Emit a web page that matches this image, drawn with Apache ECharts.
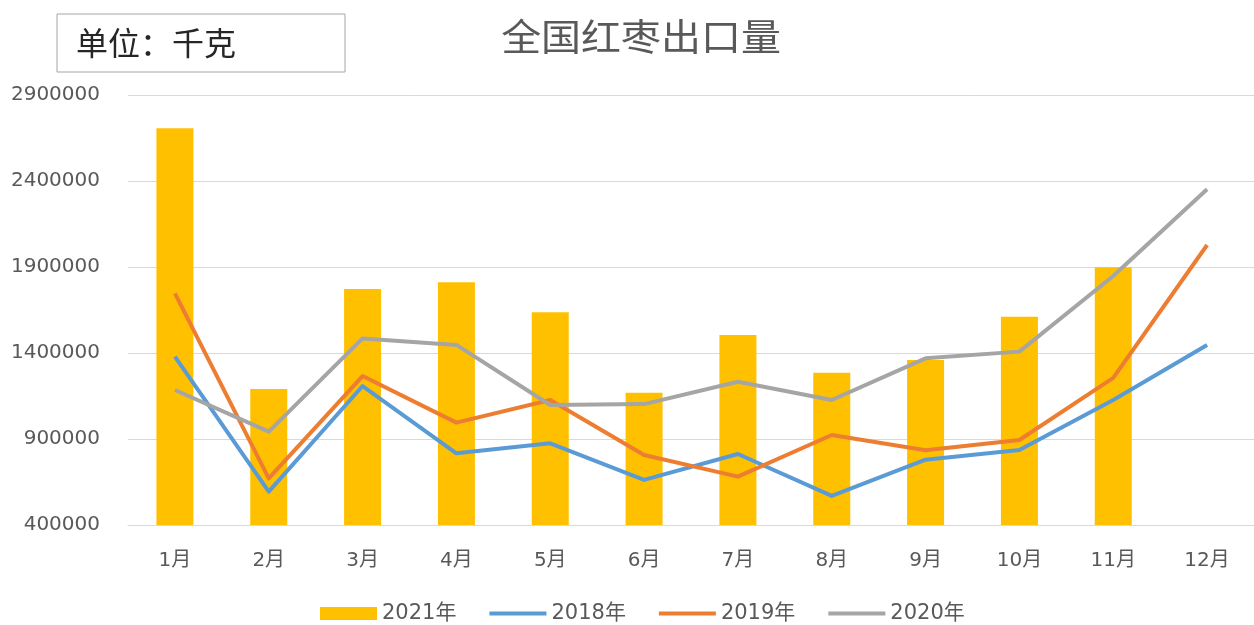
<!DOCTYPE html>
<html>
<head>
<meta charset="utf-8">
<script src="https://cdn.jsdelivr.net/npm/echarts@6/dist/echarts.min.js"></script>
<style>
  html, body { margin: 0; padding: 0; background: #fff; }
  #main { width: 1254px; height: 625px; }
</style>
</head>
<body>
<div id="main"></div>
<script>
// 月份
const months = ['1月', '2月', '3月', '4月', '5月', '6月', '7月', '8月', '9月', '10月', '11月', '12月'];

// 出口量（千克）
const data2021 = [2706000, 1190000, 1772000, 1811000, 1637000, 1169000, 1505000, 1285000, 1359000, 1611000, 1898000, null];
const data2018 = [1379000, 594000, 1208000, 817000, 875000, 662000, 813000, 569000, 780000, 836000, 1127000, 1447000];
const data2019 = [1747000, 671000, 1266000, 995000, 1127000, 807000, 681000, 923000, 835000, 894000, 1255000, 2028000];
const data2020 = [1185000, 943000, 1485000, 1447000, 1098000, 1103000, 1233000, 1127000, 1369000, 1408000, 1848000, 2352000];

const FONT = '"DejaVu Sans", "Noto Sans CJK SC"';
const chart = echarts.init(document.getElementById('main'));

const lineSeries = (name, data, color) => ({
  name: name,
  type: 'line',
  data: data,
  symbol: 'none',
  lineStyle: { color: color, width: 4, join: 'round' },
  itemStyle: { color: color }
});

// 折线图例只画线，不画圆点
const lineLegend = name => ({ name: name, itemStyle: { opacity: 0 }, lineStyle: { width: 4 } });

chart.setOption({
  animation: false,
  graphic: [
    {
      type: 'text',
      x: 641, y: 37,
      scaleX: 1.08,
      style: {
        text: '全国红枣出口量',
        font: '37px "Noto Sans CJK SC"',
        fill: '#595959',
        textAlign: 'center',
        verticalAlign: 'middle'
      }
    },
    {
      type: 'rect',
      shape: { x: 57, y: 14, width: 288, height: 58 },
      style: { fill: '#fff', stroke: '#a6a6a6', lineWidth: 1 }
    },
    {
      type: 'text',
      x: 76, y: 43,
      style: {
        text: '单位：千克',
        font: '32px "Noto Sans CJK SC"',
        fill: '#262626',
        verticalAlign: 'middle'
      }
    }
  ],
  legend: {
    top: 598,
    left: 315,
    itemWidth: 57,
    itemHeight: 13,
    itemGap: 31,
    textStyle: { fontFamily: FONT, fontSize: 21, color: '#595959' },
    data: [
      { name: '2021年', icon: 'rect' },
      lineLegend('2018年'),
      lineLegend('2019年'),
      lineLegend('2020年')
    ]
  },
  grid: { left: 128, right: 0, top: 95, bottom: 100 },
  xAxis: {
    type: 'category',
    data: months,
    axisLine: { lineStyle: { color: '#d9d9d9' } },
    axisTick: { show: false },
    axisLabel: { fontFamily: FONT, fontSize: 20, color: '#595959', margin: 26 }
  },
  yAxis: {
    type: 'value',
    min: 400000,
    max: 2900000,
    interval: 500000,
    axisLine: { show: false },
    axisTick: { show: false },
    axisLabel: {
      fontFamily: '"DejaVu Sans"',
      fontSize: 20,
      color: '#595959',
      margin: 28,
      formatter: v => String(v)
    },
    splitLine: { lineStyle: { color: '#d9d9d9', width: 1 } }
  },
  series: [
    {
      name: '2021年',
      type: 'bar',
      data: data2021,
      barWidth: 37,
      itemStyle: { color: '#FFC000' }
    },
    lineSeries('2018年', data2018, '#5B9BD5'),
    lineSeries('2019年', data2019, '#ED7D31'),
    lineSeries('2020年', data2020, '#A5A5A5')
  ]
});
</script>
</body>
</html>
